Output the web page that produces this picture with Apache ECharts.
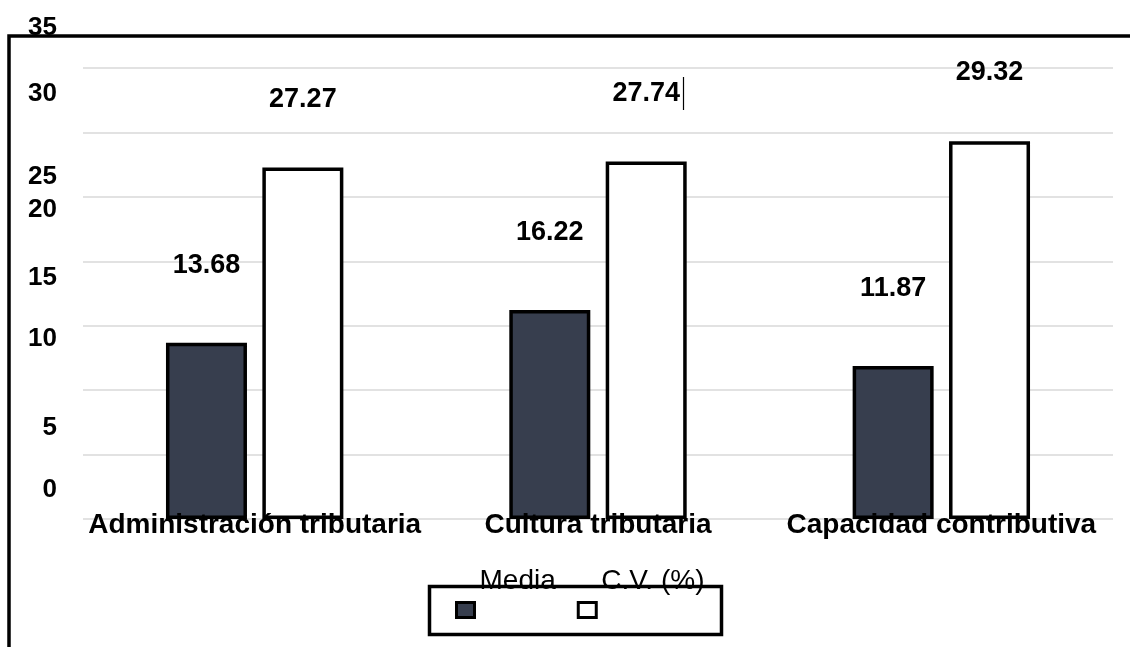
<!DOCTYPE html>
<html>
<head>
<meta charset="utf-8">
<script src="https://cdn.jsdelivr.net/npm/echarts@6/dist/echarts.min.js"></script>
<style>
html,body{margin:0;padding:0;background:#fff;}
#chart{width:1130px;height:647px;}
</style>
</head>
<body>
<div id="chart"></div>
<script>
// ---- data ----
var categories = ['Administración tributaria', 'Cultura tributaria', 'Capacidad contributiva'];
var seriesNames = ['Media', 'C.V. (%)'];
var mediaValues = [13.68, 16.22, 11.87];
var cvValues = [27.27, 27.74, 29.32];
var yTicks = [0, 5, 10, 15, 20, 25, 30, 35];

// upward shift (px) of each y tick label as placed in the original picture
var yLabelShift = {0: 29, 5: 27, 10: 51, 15: 48, 20: 51, 25: 20, 30: 39, 35: 40};

var FONT = '"Liberation Sans", Arial, sans-serif';
var rich = {};
yTicks.forEach(function (t) {
  rich['s' + t] = {
    fontFamily: FONT, fontWeight: 'bold', fontSize: 26, color: '#000',
    padding: [0, 0, yLabelShift[t] * 2, 0]
  };
});

var chart = echarts.init(document.getElementById('chart'));
chart.setOption({
  backgroundColor: '#fff',
  animation: false,
  grid: { left: 83, right: 17, top: 68, bottom: 128, containLabel: false },
  xAxis: {
    type: 'category',
    data: categories,
    z: 5,
    axisLine: { show: false },
    axisTick: { show: false },
    axisLabel: {
      interval: 0,
      margin: 6,
      verticalAlign: 'middle',
      fontFamily: FONT, fontWeight: 'bold', fontSize: 28, color: '#000'
    }
  },
  yAxis: {
    type: 'value',
    min: 0, max: 35, interval: 5,
    axisLine: { show: false },
    axisTick: { show: false },
    splitLine: { lineStyle: { color: '#d9d9d9', width: 1.5 } },
    axisLabel: {
      margin: 26,
      formatter: function (v) { return '{s' + v + '|' + v + '}'; },
      rich: rich
    }
  },
  legend: {
    data: seriesNames,
    left: 455,
    top: 567,
    padding: 0,
    itemGap: 21,
    itemWidth: 18,
    itemHeight: 15,
    icon: 'rect',
    itemStyle: { borderColor: '#000', borderWidth: 3 },
    formatter: function (name) { return '{n|' + name + '}'; },
    textStyle: {
      fontFamily: FONT, fontSize: 28, color: '#000',
      rich: {
        n: { fontFamily: FONT, fontSize: 28, color: '#000', padding: [0, 0, 58, 0] }
      }
    }
  },
  series: [
    {
      name: seriesNames[0],
      type: 'bar',
      data: mediaValues,
      barWidth: 81,
      barGap: '19%',
      itemStyle: { color: '#373e4e', borderColor: '#000', borderWidth: 3.5 },
      label: {
        show: true, position: 'top', distance: 64,
        fontFamily: FONT, fontWeight: 'bold', fontSize: 27, color: '#000',
        formatter: function (p) { return p.value.toFixed(2); }
      }
    },
    {
      name: seriesNames[1],
      type: 'bar',
      data: cvValues,
      barWidth: 81,
      barGap: '19%',
      itemStyle: { color: '#fff', borderColor: '#000', borderWidth: 3.5 },
      label: {
        show: true, position: 'top', distance: 55,
        fontFamily: FONT, fontWeight: 'bold', fontSize: 27, color: '#000',
        formatter: function (p) { return p.value.toFixed(2); }
      }
    }
  ],
  graphic: [
    {
      type: 'rect', z: -1, silent: true,
      shape: { x: 9, y: 36, width: 1300, height: 800 },
      style: { fill: 'none', stroke: '#000', lineWidth: 3.5 }
    },
    {
      type: 'rect', z: 1, silent: true,
      shape: { x: 429.5, y: 586.5, width: 292, height: 48 },
      style: { fill: 'none', stroke: '#000', lineWidth: 3.5 }
    },
    {
      type: 'line', z: 10, silent: true,
      shape: { x1: 683.5, y1: 77, x2: 683.5, y2: 110 },
      style: { stroke: '#000', lineWidth: 1.2 }
    }
  ]
});
</script>
</body>
</html>
